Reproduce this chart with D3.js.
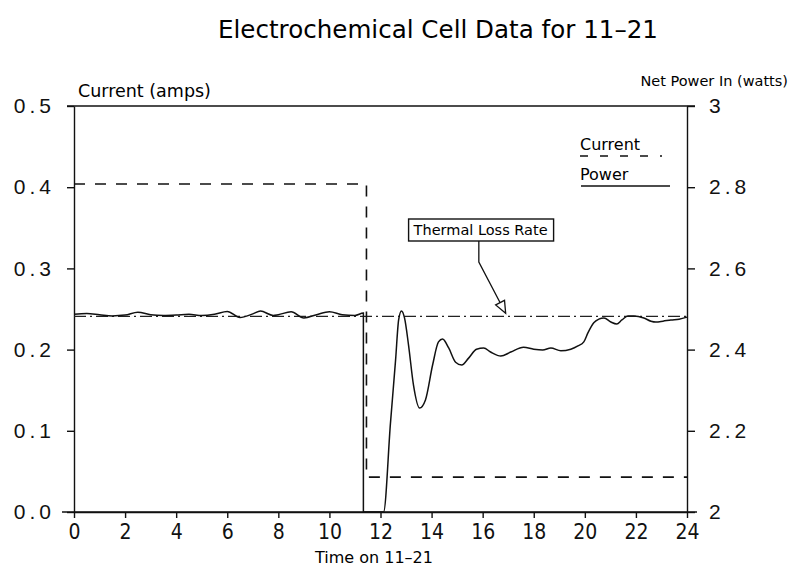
<!DOCTYPE html>
<html>
<head>
<meta charset="utf-8">
<script src="https://cdn.jsdelivr.net/npm/d3@7"></script>
<style>
  body { margin: 0; background: #fff; }
  svg { display: block; }
  .axis path, .axis line { stroke: #111; stroke-width: 1.4; }
  .axis text { fill: #111; }
</style>
</head>
<body>
<script>
// current (amps) steps
var currentTime = [0, 11.45, 11.45, 24];
var currentVal  = [0.404, 0.404, 0.043, 0.043];

// net power in (watts)
var powerTime = [0, 0.5, 1, 1.5, 2, 2.5, 3, 3.5, 4, 4.5, 5, 5.5, 6, 6.5, 7, 7.3, 7.8, 8, 8.5, 9, 9.5, 10, 10.5, 11, 11.33,
                 11.33, 12.12, 12.39, 12.59, 12.71, 12.82, 12.94, 13.1, 13.29, 13.53, 13.76, 14.04, 14.27, 14.43, 14.67,
                 14.94, 15.18, 15.45, 15.76, 16.04, 16.31, 16.71, 17.1, 17.6, 18.0, 18.35, 18.67, 19.06, 19.45, 19.73,
                 19.96, 20.12, 20.35, 20.55, 20.75, 21.02, 21.25, 21.45, 21.69, 21.92, 22.31, 22.59, 22.78, 23.06,
                 23.37, 23.69, 24];
var powerVal  = [2.487, 2.489, 2.486, 2.483, 2.485, 2.492, 2.486, 2.484, 2.485, 2.487, 2.484, 2.487, 2.494, 2.479, 2.488,
                 2.495, 2.484, 2.486, 2.493, 2.478, 2.486, 2.493, 2.486, 2.484, 2.49,
                 2.0, 2.0, 2.219, 2.374, 2.473, 2.495, 2.478, 2.41, 2.313, 2.256, 2.276, 2.362, 2.419, 2.426, 2.404,
                 2.369, 2.362, 2.379, 2.401, 2.404, 2.394, 2.384, 2.394, 2.406, 2.401, 2.399, 2.404, 2.397, 2.401, 2.409,
                 2.419, 2.441, 2.466, 2.475, 2.478, 2.468, 2.463, 2.473, 2.483, 2.483, 2.478, 2.470, 2.468, 2.470,
                 2.473, 2.475, 2.480];

var thermalLoss = 2.482;

var xTicks = [0, 2, 4, 6, 8, 10, 12, 14, 16, 18, 20, 22, 24];
var currentTicks = [0, 0.1, 0.2, 0.3, 0.4, 0.5];
var powerTicks = [2, 2.2, 2.4, 2.6, 2.8, 3];

var width = 793, height = 572;
var svg = d3.select("body").append("svg").attr("width", width).attr("height", height);

var x = d3.scaleLinear().domain([0, 24]).range([74, 687]);
var yCur = d3.scaleLinear().domain([0, 0.5]).range([512, 106]);
var yPow = d3.scaleLinear().domain([2, 3]).range([512, 106]);

var mono = "'Liberation Sans', Arial, sans-serif";
var body = "'DejaVu Sans', sans-serif";

// title
svg.append("text")
    .attr("x", 438).attr("y", 38)
    .attr("text-anchor", "middle")
    .attr("textLength", 440)
    .attr("lengthAdjust", "spacingAndGlyphs")
    .style("font-family", body)
    .style("font-size", "25px")
    .text("Electrochemical Cell Data for 11\u201321");

// axes
var leftAxis = svg.append("g").attr("class", "axis")
    .attr("transform", "translate(" + x(0) + ",0)")
    .call(d3.axisLeft(yCur).tickValues(currentTicks).tickSize(7).tickSizeOuter(0).tickPadding(12)
        .tickFormat(d3.format(".1f")));
leftAxis.selectAll("text")
    .style("font-family", mono).style("font-size", "21px").style("letter-spacing", "4px");

var rightAxis = svg.append("g").attr("class", "axis")
    .attr("transform", "translate(" + x(24) + ",0)")
    .call(d3.axisRight(yPow).tickValues(powerTicks).tickSize(8).tickSizeOuter(0).tickPadding(14)
        .tickFormat(function(d){ return (d == 2 || d == 3) ? d3.format("d")(d) : d3.format(".1f")(d); }));
rightAxis.selectAll("text")
    .style("font-family", mono).style("font-size", "21px").style("letter-spacing", "4px");

var bottomAxis = svg.append("g").attr("class", "axis")
    .attr("transform", "translate(0," + yCur(0) + ")")
    .call(d3.axisBottom(x).tickValues(xTicks).tickSize(6).tickSizeOuter(0).tickPadding(6));
bottomAxis.selectAll("text")
    .style("font-family", "'Liberation Sans Narrow', 'DejaVu Sans Condensed', sans-serif")
    .style("font-stretch", "condensed")
    .style("font-size", "21px");

// extend bottom and top frame lines
svg.append("line")
    .attr("x1", x(0) - 12).attr("x2", x(24) + 10)
    .attr("y1", yCur(0)).attr("y2", yCur(0))
    .attr("stroke", "#111").attr("stroke-width", 1.6);
svg.append("line")
    .attr("x1", x(0) - 7).attr("x2", x(24) + 8)
    .attr("y1", yCur(0.5)).attr("y2", yCur(0.5))
    .attr("stroke", "#111").attr("stroke-width", 1.4);

// axis titles
svg.append("text")
    .attr("x", 78).attr("y", 97)
    .style("font-family", body).style("font-size", "17.5px")
    .text("Current (amps)");
svg.append("text")
    .attr("x", 788).attr("y", 86)
    .attr("text-anchor", "end")
    .style("font-family", body).style("font-size", "14.5px")
    .text("Net Power In (watts)");
svg.append("text")
    .attr("x", 374).attr("y", 563)
    .attr("text-anchor", "middle")
    .style("font-family", body).style("font-size", "16px")
    .text("Time on 11\u201321");

// thermal loss rate (dash-dot)
svg.append("line")
    .attr("x1", x(0)).attr("x2", x(24))
    .attr("y1", yPow(thermalLoss)).attr("y2", yPow(thermalLoss))
    .attr("stroke", "#222").attr("stroke-width", 1.2)
    .attr("stroke-dasharray", "12,4,2,4");

// current line
var curData = currentTime.map(function(t, i){ return {t: t, v: currentVal[i]}; });
svg.append("path")
    .attr("fill", "none")
    .attr("stroke", "#111")
    .attr("stroke-width", 1.6)
    .attr("stroke-dasharray", "11,10")
    .attr("d", d3.line().x(function(d){ return x(d.t); }).y(function(d){ return yCur(d.v); })(curData));

// power line
var powData = powerTime.map(function(t, i){ return {t: t, v: powerVal[i]}; });
svg.append("path")
    .attr("fill", "none")
    .attr("stroke", "#111")
    .attr("stroke-width", 1.5)
    .attr("d", d3.line().curve(d3.curveMonotoneX)
        .x(function(d){ return x(d.t); }).y(function(d){ return yPow(d.v); })(powData));

// legend
var lg = svg.append("g").style("font-family", body).style("font-size", "16px");
lg.append("text").attr("x", 580).attr("y", 150).text("Current");
lg.append("line").attr("x1", 580).attr("x2", 662).attr("y1", 156).attr("y2", 156)
    .attr("stroke", "#111").attr("stroke-width", 1.3).attr("stroke-dasharray", "8,12");
lg.append("text").attr("x", 580).attr("y", 180).text("Power");
lg.append("line").attr("x1", 581).attr("x2", 670).attr("y1", 186).attr("y2", 186)
    .attr("stroke", "#111").attr("stroke-width", 1.3);

// annotation: Thermal Loss Rate
var tipX = x(16.9), tipY = yPow(thermalLoss);
var ann = svg.append("g");
ann.append("rect")
    .attr("x", x(13.1)).attr("y", 219).attr("width", 145).attr("height", 22)
    .attr("fill", "#fff").attr("stroke", "#111").attr("stroke-width", 1.4);
ann.append("text")
    .attr("x", x(13.1) + 72).attr("y", 235)
    .attr("text-anchor", "middle")
    .attr("textLength", 134)
    .attr("lengthAdjust", "spacingAndGlyphs")
    .style("font-family", body).style("font-size", "13.5px")
    .text("Thermal Loss Rate");
ann.append("path")
    .attr("fill", "none").attr("stroke", "#111").attr("stroke-width", 1.3)
    .attr("d", "M" + x(15.85) + ",241 L" + x(15.85) + ",262 L" + tipX + "," + (tipY - 3));
// open arrowhead
var ang = Math.atan2((tipY - 3) - 262, tipX - x(15.85));
var hl = 12, hw = 5;
var bx = tipX - hl * Math.cos(ang), by = (tipY - 3) - hl * Math.sin(ang);
ann.append("path")
    .attr("fill", "#fff").attr("stroke", "#111").attr("stroke-width", 1.3)
    .attr("d", "M" + tipX + "," + (tipY - 3) +
        " L" + (bx + hw * Math.sin(ang)) + "," + (by - hw * Math.cos(ang)) +
        " L" + (bx - hw * Math.sin(ang)) + "," + (by + hw * Math.cos(ang)) + " Z");
</script>
</body>
</html>
